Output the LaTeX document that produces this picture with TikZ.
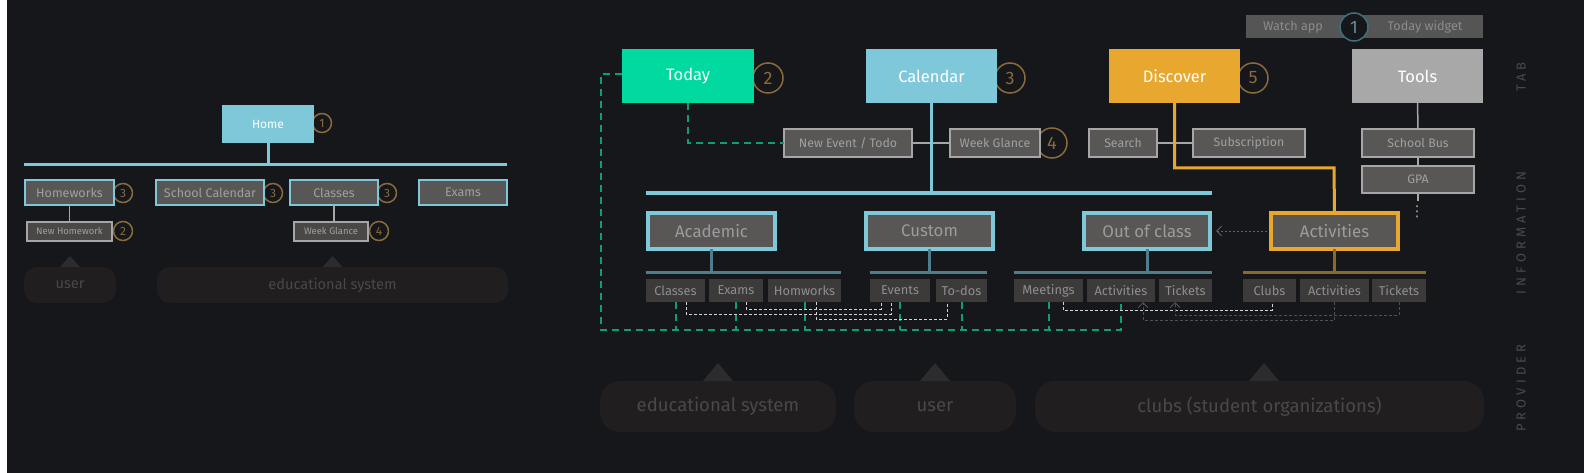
\documentclass[tikz,border=0pt]{standalone}
\usepackage{fontspec}
\setmainfont{Fira Sans}
\newfontfamily\dvs{DejaVu Sans}
\usetikzlibrary{calc,arrows.meta}
\definecolor{bg}{HTML}{16171B}
\definecolor{lb}{HTML}{7EC8DA}
\definecolor{tgreen}{HTML}{00D9A0}
\definecolor{orng}{HTML}{E8A830}
\definecolor{toolg}{HTML}{A8A8A8}
\definecolor{boxf}{HTML}{595656}
\definecolor{boxff}{HTML}{4A4747}
\definecolor{grayb}{HTML}{A6A6A6}
\definecolor{subtxt}{HTML}{A0A0A0}
\definecolor{cattxt}{HTML}{9C9C9C}
\definecolor{leaff}{HTML}{3D3A3A}
\definecolor{leaftxt}{HTML}{8E8E8E}
\definecolor{numcol}{HTML}{8A6A3C}
\definecolor{tealln}{HTML}{4E7E8C}
\definecolor{brownln}{HTML}{8A6A28}
\definecolor{greend}{HTML}{0E9E72}
\definecolor{wdash}{HTML}{D4D4D4}
\definecolor{ddash}{HTML}{505050}
\definecolor{bubf}{HTML}{201E1E}
\definecolor{bubtxt}{HTML}{4A4848}
\definecolor{trif}{HTML}{2C2C2E}
\definecolor{sidetxt}{HTML}{4A4A4A}
\definecolor{wbar}{HTML}{555555}
\definecolor{wtxt}{HTML}{8C8C8C}
\definecolor{wcirc}{HTML}{3E6F80}
\newcommand\mybox[7]{\node[#6,minimum width={(#4)-(#2)},minimum height={(#5)-(#3)},inner sep=0pt,outer sep=0pt] (#1) at ({((#2)+(#4))/2},{((#3)+(#5))/2}) {#7};}
\newcommand\fs[1]{\fontsize{#1}{#1}\selectfont}
\begin{document}
\begin{tikzpicture}[x=1pt,y=-1pt,
  tabbox/.style={text=white,font=\fs{16.5}},
  catbox/.style={draw=lb,line width=3.5pt,fill=boxf,text=cattxt,font=\fs{16.8}},
  subbox/.style={draw=grayb,line width=2pt,fill=boxf,text=subtxt,font=\fs{12.3}},
  leafbox/.style={fill=leaff,text=leaftxt,font=\fs{12.8}},
  lrow/.style={draw=lb,line width=2pt,fill=boxf,text=subtxt,font=\fs{12.5}},
  lsub/.style={draw=grayb,line width=1.5pt,fill=boxff,text=subtxt,font=\fs{9.4}},
  numc/.style={circle,draw=numcol,line width=1.5pt,text=numcol,inner sep=0pt},
  bignum/.style={numc,minimum size=30pt,font=\fs{18}},
  smallnum/.style={numc,minimum size=19pt,font=\fs{12}},
  bubble/.style={fill=bubf,text=bubtxt},
  gline/.style={draw=grayb,line width=1.5pt},
  lbline/.style={draw=lb,line width=3.5pt},
  gdash/.style={draw=greend,line width=2pt,dash pattern=on 7pt off 5pt},
  wdsh/.style={draw=wdash,line width=1pt,dash pattern=on 3pt off 2pt},
  ddsh/.style={draw=ddash,line width=1pt,dash pattern=on 3pt off 2pt},
  sidelab/.style={rotate=90,text=sidetxt,font=\fs{13}\addfontfeature{LetterSpace=32}}
]
\useasboundingbox (0,0) rectangle (1584,473);
\fill[white] (0,0) rectangle (1584,473);
\fill[bg] (7,0) rectangle (1584,473);

% ---------------- LEFT -----------------
\node[smallnum] (ln1) at (322,123) {1};
\node[smallnum] (ln3a) at (123,193) {3};
\node[smallnum] (ln3b) at (273,193) {3};
\node[smallnum] (ln3c) at (387,193) {3};
\node[smallnum] (ln2) at (123,231) {2};
\node[smallnum] (ln4) at (379,231) {4};

\mybox{home}{222}{105}{314}{143}{fill=lb,text=white,font=\fs{12}}{Home}
\coordinate (lbl) at (24,165);
\coordinate (lbr) at (507,165);
\draw[lbline,line width=3pt] (lbl) -- (lbr);
\draw[lbline,line width=3pt] (home.south) -- (home.south |- lbl);

\mybox{lhw}{25}{180}{114}{205}{lrow}{Homeworks}
\mybox{lsc}{156}{180}{264}{205}{lrow}{School Calendar}
\mybox{lcl}{290}{180}{378}{205}{lrow}{Classes}
\mybox{lex}{419}{180}{507}{205}{lrow}{Exams}
\mybox{lnh}{27}{222}{112}{241}{lsub}{New Homework}
\mybox{lwg}{294}{222}{368}{241}{lsub}{Week Glance}
\draw[gline] (lhw.south) -- (lhw.south |- lnh.north);
\draw[gline] (lcl.south) -- (lcl.south |- lwg.north);

\mybox{luser}{24}{267}{116}{303}{bubble,rounded corners=13pt,font=\fs{14.6}}{user}
\mybox{ledu}{157}{267}{508}{303}{bubble,rounded corners=13pt,font=\fs{14.6}}{educational system}
\fill[trif] ($(luser.north)+(-10,0)$) -- ($(luser.north)+(0,-11)$) -- ($(luser.north)+(10,0)$) -- cycle;
\fill[trif] ($(ledu.north)+(-10,0)$) -- ($(ledu.north)+(0,-11)$) -- ($(ledu.north)+(10,0)$) -- cycle;

% ---------------- RIGHT: top -----------------
\mybox{wbarn}{1246}{15}{1483}{38}{fill=wbar}{}
\node[text=wtxt,font=\fs{12.6}] (watch) at (1293,27) {Watch app};
\node[text=wtxt,font=\fs{12.6}] (widget) at (1425,27) {Today widget};
\node[circle,draw=wcirc,fill=bg,line width=1.5pt,minimum size=28pt,inner sep=0pt,text=wcirc!80!white,font=\fs{18}] (wn1) at (1354,27) {1};

\node[bignum] (n2) at (768,78) {2};
\node[bignum] (n3) at (1010,78) {3};
\node[bignum] (n5) at (1253,78) {5};
\node[bignum] (n4) at (1052,143) {4};

\mybox{today}{622}{49}{754}{103}{tabbox,fill=tgreen}{Today}
\mybox{cal}{866}{49}{997}{103}{tabbox,fill=lb}{Calendar}
\mybox{disc}{1109}{49}{1240}{103}{tabbox,fill=orng}{Discover}
\mybox{tools}{1352}{49}{1483}{103}{tabbox,fill=toolg}{Tools}

\mybox{newev}{784}{129}{912}{157}{subbox}{New Event / Todo}
\mybox{wkgl}{950}{129}{1040}{157}{subbox}{Week Glance}
\mybox{search}{1089}{129}{1157}{157}{subbox}{Search}
\mybox{subs}{1193}{129}{1305}{157}{subbox}{Subscription}
\mybox{sbus}{1362}{129}{1474}{157}{subbox}{School Bus}
\mybox{gpa}{1362}{166}{1474}{193}{subbox}{GPA}
\node[text=grayb,font=\dvs\fs{15},inner sep=0pt] (dots) at (1417,212) {⋮};

\draw[gline] (newev.east) -- (wkgl.west);
\draw[gline] (search.east) -- (subs.west);
\draw[gline] (tools.south) -- (sbus.north);
\draw[gline] (sbus.south) -- (gpa.north);
\draw[gline] (gpa.south) -- ++(0,8) coordinate (gpaend);

% blue bar
\coordinate (bbl) at (646,193);
\coordinate (bbr) at (1212,193);
\draw[lbline] (bbl) -- (bbr);
\draw[lbline] (cal.south) -- (cal.south |- bbl);

% ---------------- categories -----------------
\mybox{acad}{648}{213}{775}{249}{catbox}{Academic}
\mybox{cust}{866}{213}{993}{249}{catbox}{Custom}
\mybox{outc}{1084}{213}{1210}{249}{catbox}{Out of class}
\mybox{actb}{1271}{213}{1398}{249}{catbox,draw=orng}{Activities}

\draw[orng,line width=3pt] (disc.south) |- (1334,168) -- (actb.north);
\draw[draw=ddash!90!white,line width=1pt,dash pattern=on 2pt off 2pt,shorten >=6pt,shorten <=4pt,-{Straight Barb[length=5pt,width=10pt]}] (actb.west) -- (outc.east);

% leaves
\mybox{lcls}{646}{279}{705}{302}{leafbox}{Classes}
\mybox{lexm}{709}{279}{763}{302}{leafbox}{Exams}
\mybox{lhom}{768}{279}{841}{302}{leafbox}{Homworks}
\mybox{levt}{870}{279}{930}{302}{leafbox}{Events}
\mybox{ltod}{936}{279}{987}{302}{leafbox}{To-dos}
\mybox{lmtg}{1014}{279}{1083}{302}{leafbox}{Meetings}
\mybox{loac}{1087}{279}{1155}{302}{leafbox}{Activities}
\mybox{lotk}{1159}{279}{1212}{302}{leafbox}{Tickets}
\mybox{lclb}{1243}{279}{1296}{302}{leafbox}{Clubs}
\mybox{lrac}{1300}{279}{1369}{302}{leafbox}{Activities}
\mybox{lrtk}{1372}{279}{1426}{302}{leafbox}{Tickets}

\coordinate (tb) at (0,272);
\draw[tealln,line width=3pt] (acad.south) -- (acad.south |- tb);
\draw[tealln,line width=3pt] (lcls.west |- tb) -- (lhom.east |- tb);
\draw[tealln,line width=3pt] (cust.south) -- (cust.south |- tb);
\draw[tealln,line width=3pt] (levt.west |- tb) -- (ltod.east |- tb);
\draw[tealln,line width=3pt] (outc.south) -- (outc.south |- tb);
\draw[tealln,line width=3pt] (lmtg.west |- tb) -- (lotk.east |- tb);
\draw[brownln,line width=3pt] (actb.south) -- (actb.south |- tb);
\draw[brownln,line width=3pt] (lclb.west |- tb) -- (lrtk.east |- tb);

% green dashed
\coordinate (gy) at (0,330);
\coordinate (gl) at (601,330);
\draw[gdash] (today.south) |- (newev.west);
\draw[gdash] ($(today.west)+(0,-2)$) -| (gl) -- (loac.south |- gy) -- (loac.south);
\foreach \n in {lcls,lexm,lhom,levt,ltod,lmtg}
  \draw[gdash] (\n.south) -- (\n.south |- gy);

% white dashed
\draw[wdsh] ($(lcls.south)+(10.5,0)$) -- ++(0,12) -| ($(levt.south)+(-9,0)$);
\draw[wdsh] ($(lexm.south)+(10,0)$) -- ++(0,7) -| ($(levt.south)+(-19,0)$);
\draw[wdsh] ($(lhom.south)+(11.5,0)$) -- ++(0,17) -| ($(ltod.south)+(-14.5,0)$);
\draw[wdsh] ($(lmtg.south)+(14.5,0)$) -- ++(0,8) -| ($(lclb.south)+(2.5,0)$);

% gray dashed arrows
\draw[ddsh,-{Straight Barb[length=5pt,width=10pt]}] (lrac.south) -- ++(0,18) -| ($(loac.south)+(22,0)$);
\draw[ddsh,-{Straight Barb[length=5pt,width=10pt]}] (lrtk.south) -- ++(0,13) -| ($(lotk.south)+(-10.5,0)$);

% ---------------- bottom bubbles -----------------
\mybox{bedu}{600}{381}{836}{432}{bubble,rounded corners=20pt,font=\fs{18.5}}{educational system}
\mybox{buser}{854}{381}{1016}{432}{bubble,rounded corners=20pt,font=\fs{18.5}}{user}
\mybox{bclub}{1035}{381}{1484}{432}{bubble,rounded corners=20pt,font=\fs{18.5}}{clubs (student organizations)}
\fill[trif] ($(bedu.north)+(-15,0)$) -- ($(bedu.north)+(0,-18)$) -- ($(bedu.north)+(15,0)$) -- cycle;
\fill[trif] ($(buser.north)+(-15,0)$) -- ($(buser.north)+(0,-18)$) -- ($(buser.north)+(15,0)$) -- cycle;
\fill[trif] ($(bclub.north)+(-10.5,0)$) -- ($(bclub.north)+(4.5,-18)$) -- ($(bclub.north)+(19.5,0)$) -- cycle;

% side labels
\node[sidelab] (stab) at (1521,77) {TAB};
\node[sidelab] (sinf) at (1521,233) {INFORMATION};
\node[sidelab] (sprov) at (1521,388) {PROVIDER};
\end{tikzpicture}
\end{document}
